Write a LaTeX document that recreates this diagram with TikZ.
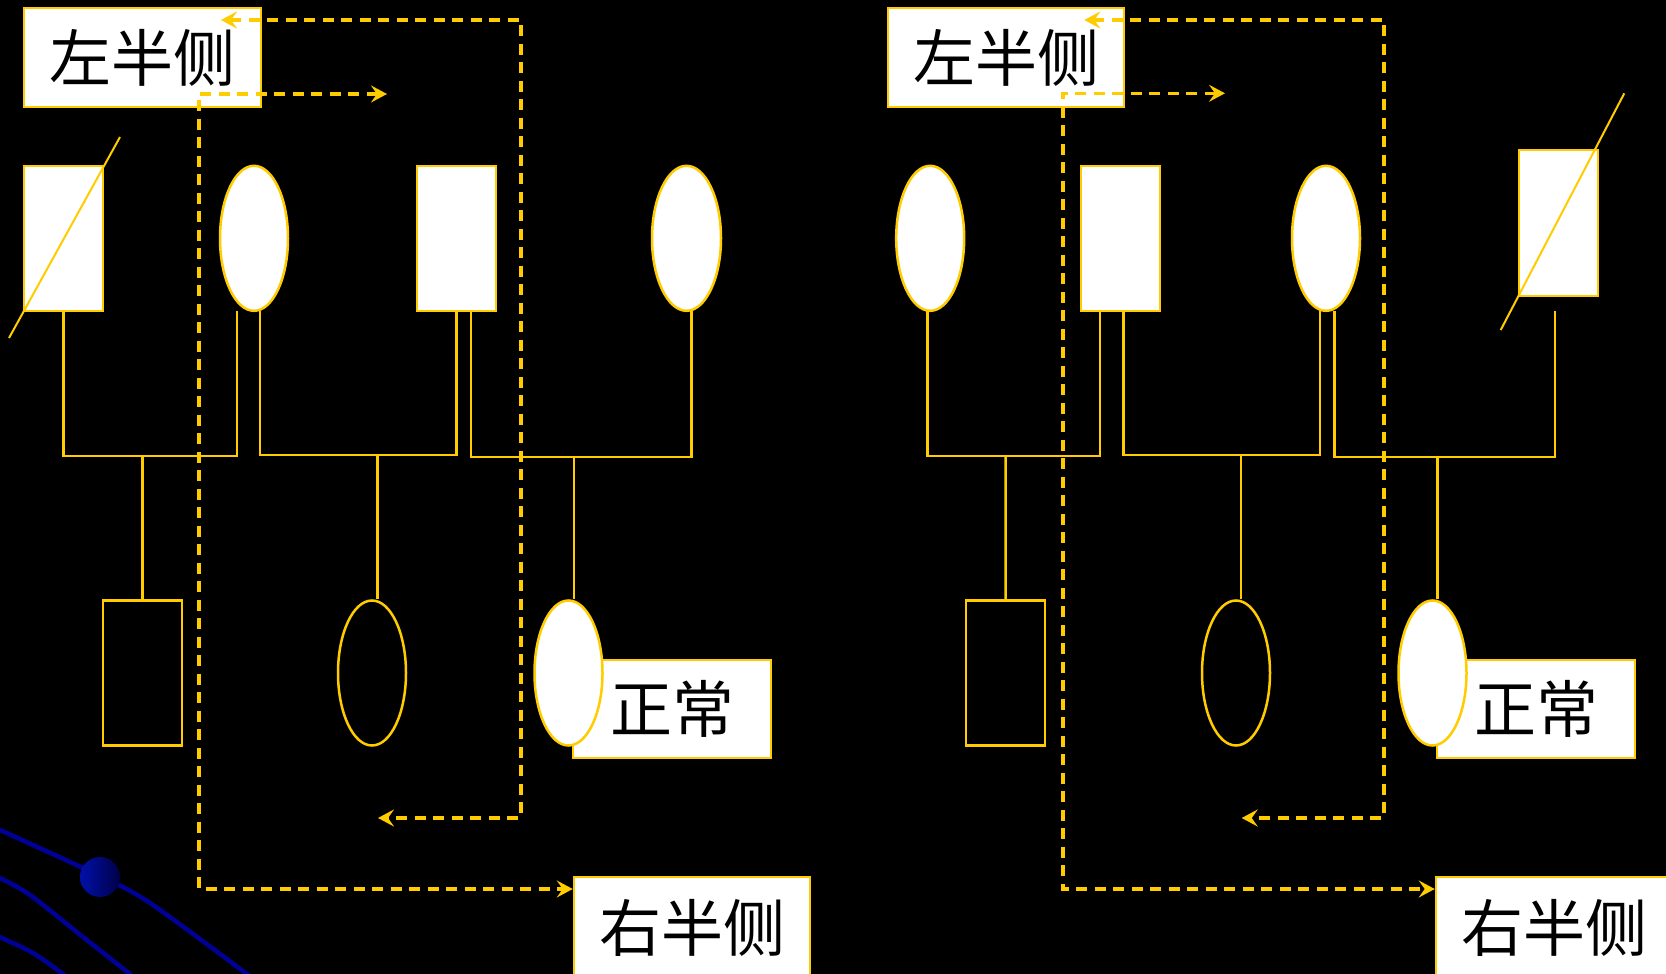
\documentclass[tikz,border=0pt]{standalone}
\usepackage{fontspec}
\newfontfamily\cjk{Noto Sans CJK SC}
\usetikzlibrary{shapes.geometric,arrows.meta,calc}
\definecolor{pgold}{RGB}{255,204,0}
\definecolor{pblue}{RGB}{0,0,150}
\definecolor{ballhi}{RGB}{0,16,170}
\definecolor{balllo}{RGB}{0,0,70}

\begin{document}
\begin{tikzpicture}[x=1pt,y=-1pt,
  kin/.style={draw=pgold, line width=2.5pt},
  male/.style={rectangle, draw=pgold, line width=2.5pt, fill=white,
    minimum width=79pt, minimum height=145pt, inner sep=0pt},
  female/.style={ellipse, draw=pgold, line width=2.5pt, fill=white,
    minimum width=68pt, minimum height=145pt, inner sep=0pt},
  hollowmale/.style={male, fill=none},
  hollowfemale/.style={female, fill=none},
  tag/.style={rectangle, draw=pgold, line width=2.5pt, fill=white, inner sep=0pt,
    text=black, font=\cjk\fontsize{62}{62}\selectfont},
  >={Stealth[length=16pt,width=17pt,inset=6pt]},
  route/.style={draw=pgold, line width=3.2pt, dash pattern=on 11pt off 7.5pt, <->},
  slash/.style={draw=pgold, line width=2pt},
  wave/.style={draw=pblue, line width=4.5pt},
]
% canvas
\useasboundingbox (0,0) rectangle (1666,974);
\clip (0,0) rectangle (1666,974);
\fill[black] (0,0) rectangle (1666,974);

% decorative blue curves in the lower left corner
\draw[wave] plot[smooth] coordinates {(-12,825) (0,830) (100,876) (150,903) (247,974) (262,986)};
\draw[wave] plot[smooth] coordinates {(-12,872) (0,878) (30,895) (83,937) (130,974) (142,984)};
\draw[wave] plot[smooth] coordinates {(-12,931) (0,937) (33,953) (63,974) (75,984)};
\shade[left color=ballhi, right color=balllo] (100,877) circle (20);

% ---------------- left pedigree ----------------
\node[tag, minimum width=237pt, minimum height=99pt] (lhsA) at (142.5,57.5) {左半侧};
\node[male]   (a1) at (63.5,238.5) {};
\node[female] (a2) at (254,238.3) {};
\node[male]   (a3) at (456.5,238.5) {};
\node[female, minimum width=69pt] (a4) at (686.5,238.3) {};
\node[hollowmale]   (a5) at (142.5,673) {};
\node[hollowfemale] (a6) at (372,673) {};
\node[tag, minimum width=198pt, minimum height=98pt] (okA) at (672,709) {正常};
\node[female] (a7) at (568.5,673) {};
\node[tag, minimum width=236pt, minimum height=102pt] (rhsA) at (692,928) {右半侧};

\draw[slash] (9,338) -- (120,137);

\coordinate (barA) at (0,456);
\coordinate (barB) at (0,455);
\coordinate (barC) at (0,457);
\coordinate (a2stub) at (237,311);
\coordinate (a2foot) at (260,311);
\coordinate (a3foot) at (471,311);
\coordinate (a4foot) at (691.7,311);
\coordinate (dropA1) at (142.5,456);
\coordinate (dropA2) at (377.5,455);
\coordinate (dropA3) at (574,457);

\draw[kin] (a1.south) -- (a1.south |- barA) -| (a2stub);
\draw[kin] (a2foot) -- (a2foot |- barB) -| (a3.south);
\draw[kin] (a3foot) -- (a3foot |- barC) -| (a4foot);
\draw[kin] (dropA1) -- (a5.north);
\draw[kin] (dropA2) -- (dropA2 |- a6.north);
\draw[kin] (dropA3) -- (dropA3 |- a7.north);

\coordinate (upA)   at (221,20);
\coordinate (cnrA1) at (521,20);
\coordinate (cnrA2) at (521,818);
\coordinate (backA) at (378,818);
\coordinate (outA)  at (387,94);
\coordinate (cnrA3) at (199,94);
\coordinate (cnrA4) at (199,889);
\draw[route] (upA) -- (cnrA1) -- (cnrA2) -- (backA);
\draw[route] (outA) -- (cnrA3) -- (cnrA4) -- (rhsA.west |- cnrA4);

% ---------------- right pedigree ----------------
\node[tag, minimum width=236pt, minimum height=99pt] (lhsB) at (1006,57.5) {左半侧};
\node[female] (b1) at (930.2,238.3) {};
\node[male]   (b2) at (1120.7,238.5) {};
\node[female] (b3) at (1326,238.3) {};
\node[male, minimum height=146pt] (b4) at (1558.5,223) {};
\node[hollowmale]   (b5) at (1005.6,673) {};
\node[hollowfemale] (b6) at (1236,673) {};
\node[tag, minimum width=198pt, minimum height=98pt] (okB) at (1536,709) {正常};
\node[female] (b7) at (1432.5,673) {};
\node[tag, minimum width=236pt, minimum height=102pt] (rhsB) at (1554,928) {右半侧};

\draw[slash] (1500.7,330) -- (1624.3,93.3);

\coordinate (barD) at (0,456);
\coordinate (barE) at (0,455);
\coordinate (barF) at (0,457);
\coordinate (b1foot) at (927.3,311);
\coordinate (b2stub) at (1100,311);
\coordinate (b2foot) at (1123.7,311);
\coordinate (b3foot) at (1320,311);
\coordinate (b3stub) at (1334.7,311);
\coordinate (b4stub) at (1555,311);
\coordinate (dropB1) at (1005.7,456);
\coordinate (dropB2) at (1241,455);
\coordinate (dropB3) at (1437.7,457);

\draw[kin] (b1foot) -- (b1foot |- barD) -| (b2stub);
\draw[kin] (b2foot) -- (b2foot |- barE) -| (b3foot);
\draw[kin] (b3stub) -- (b3stub |- barF) -| (b4stub);
\draw[kin] (dropB1) -- (b5.north);
\draw[kin] (dropB2) -- (dropB2 |- b6.north);
\draw[kin] (dropB3) -- (dropB3 |- b7.north);

\coordinate (upB)   at (1084.3,20);
\coordinate (cnrB1) at (1384,20);
\coordinate (cnrB2) at (1384,818);
\coordinate (backB) at (1241.7,818);
\coordinate (outB)  at (1225,93.3);
\coordinate (cnrB3) at (1063,93.3);
\coordinate (cnrB4) at (1063,889);
\draw[route] (upB) -- (cnrB1) -- (cnrB2) -- (backB);
\draw[route] (outB) -- (cnrB3) -- (cnrB4) -- (rhsB.west |- cnrB4);
\end{tikzpicture}
\end{document}
